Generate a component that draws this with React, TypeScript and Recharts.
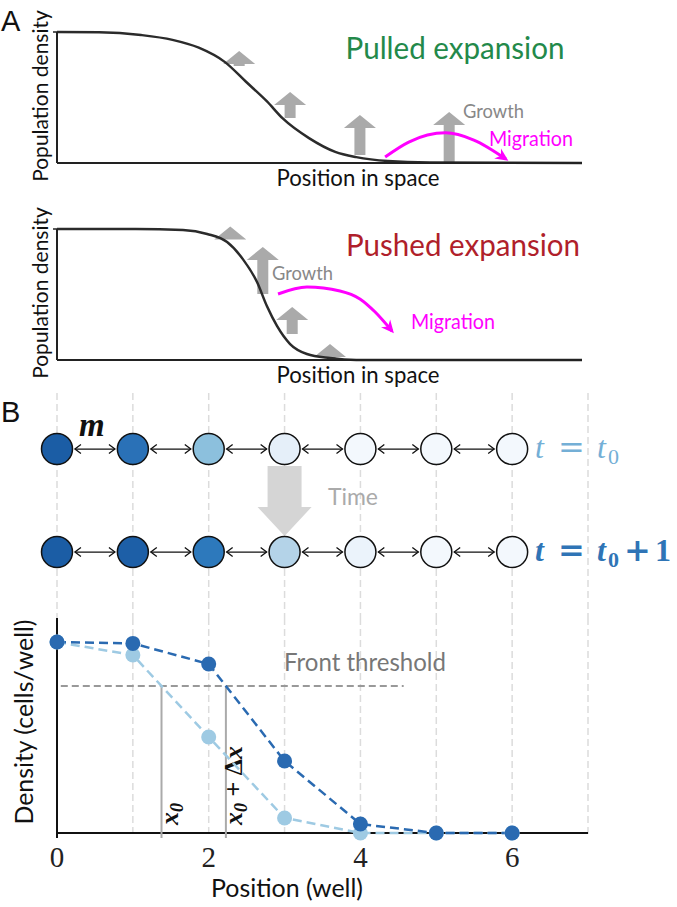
import React from "react";
import {
  ComposedChart,
  Line,
  Scatter,
  XAxis,
  YAxis,
  ReferenceLine,
  ReferenceArea,
  CartesianGrid,
} from "recharts";

const SANS = "Lato, 'Open Sans', sans-serif";
const SERIF = "'Liberation Serif', 'DejaVu Serif', serif";
const MATH_OP = "'DejaVu Serif', serif";
const MAGENTA = "#ff00ff";
const LIGHT = "#9ecae3";
const DARK = "#2a6ab1";

// panel A: sketched front profiles (position in arbitrary units, density / carrying capacity)
const pulledX = [0, 0.8, 1.6, 2.2, 2.7, 3.2, 3.6, 4.0, 4.3, 4.8, 5.3, 5.7, 6.3, 7.1, 10];
const pulledDensity = [1.0, 0.998, 0.977, 0.94, 0.88, 0.77, 0.62, 0.47, 0.34, 0.19, 0.085, 0.045, 0.015, 0.004, 0];
const pushedX = [0, 1.5, 2.4, 2.86, 3.24, 3.54, 3.81, 4.0, 4.19, 4.44, 4.76, 5.2, 5.7, 10];
const pushedDensity = [1.0, 1.0, 0.992, 0.962, 0.9, 0.77, 0.595, 0.41, 0.26, 0.122, 0.046, 0.015, 0, 0];

// growth arrows: position, foot and tip
const pulledGrowthX = [3.47, 4.44, 5.77, 7.47];
const pulledGrowthFoot = [0.74, 0.344, 0.061, 0];
const pulledGrowthTip = [0.855, 0.542, 0.366, 0.389];
const pushedGrowthX = [3.3, 3.92, 4.48, 5.2];
const pushedGrowthFoot = [0.92, 0.504, 0.198, 0.015];
const pushedGrowthTip = [1.02, 0.863, 0.405, 0.122];

// migration arcs
const pulledMigrationX = [6.25, 6.7, 7.4, 7.94, 8.55];
const pulledMigrationY = [0.046, 0.16, 0.23, 0.175, 0.03];
const pushedMigrationX = [4.21, 4.76, 5.39, 5.77, 6.06, 6.38];
const pushedMigrationY = [0.504, 0.557, 0.527, 0.466, 0.366, 0.221];

// panel B: density per well at t0 and t0 + 1
const wells = [0, 1, 2, 3, 4, 5, 6];
const densityT0 = [1.0, 0.932, 0.503, 0.079, 0, 0, 0];
const densityT1 = [1.0, 0.993, 0.885, 0.377, 0.047, 0, 0];
const FRONT_THRESHOLD = 0.77;
const xTicks = [0, 2, 4, 6];

const zip = (xs: number[], ys: number[]) => xs.map((x, i) => ({ x, y: ys[i] }));

// where the piecewise linear profile crosses the threshold
function frontPosition(density: number[]) {
  for (let i = 1; i < density.length; i++) {
    if (density[i] < FRONT_THRESHOLD) {
      const a = density[i - 1];
      const b = density[i];
      return wells[i - 1] + (a - FRONT_THRESHOLD) / (a - b);
    }
  }
  return wells[wells.length - 1];
}

const BLUE_STOPS: [number, string][] = [
  [0, "#f3f8fd"],
  [0.05, "#ebf3fb"],
  [0.08, "#e5eff9"],
  [0.38, "#b3d3e8"],
  [0.5, "#8dc1dd"],
  [0.89, "#2c78bc"],
  [0.93, "#2a72b8"],
  [1, "#1b5da5"],
];

function blues(v: number) {
  for (let i = 1; i < BLUE_STOPS.length; i++) {
    const [v1, c1] = BLUE_STOPS[i];
    if (v <= v1) {
      const [v0, c0] = BLUE_STOPS[i - 1];
      const t = (v - v0) / (v1 - v0 || 1);
      const p = (c: string, k: number) => parseInt(c.slice(1 + 2 * k, 3 + 2 * k), 16);
      const ch = [0, 1, 2].map((k) => Math.round(p(c0, k) + (p(c1, k) - p(c0, k)) * t));
      return `rgb(${ch.join(",")})`;
    }
  }
  return BLUE_STOPS[BLUE_STOPS.length - 1][1];
}

const growthArrow = (p: any) => {
  const cx = p.x + p.width / 2;
  const top = p.y;
  const bottom = p.y + p.height;
  const neck = Math.min(top + 13, bottom);
  return (
    <path
      d={`M${cx},${top} L${cx + 16},${neck} L${cx + 5.5},${neck} L${cx + 5.5},${bottom} L${cx - 5.5},${bottom} L${cx - 5.5},${neck} L${cx - 16},${neck} Z`}
      fill="#aaaaaa"
    />
  );
};

const timeArrow = (p: any) => {
  const cx = p.x + p.width / 2;
  const top = p.y;
  const bottom = p.y + p.height;
  const neck = bottom - 29;
  return (
    <path
      d={`M${cx - 17},${top} L${cx + 17},${top} L${cx + 17},${neck} L${cx + 27},${neck} L${cx},${bottom} L${cx - 27},${neck} L${cx - 17},${neck} Z`}
      fill="#d5d5d5"
    />
  );
};

const cellShape = (p: any) => (
  <circle cx={p.cx} cy={p.cy} r={15.5} fill={blues(p.payload.density)} stroke="#111" strokeWidth={1.5} />
);

const linkShape = (p: any) => {
  const a = p.cx - 20;
  const b = p.cx + 20;
  const y = p.cy;
  return (
    <g fill="none" stroke="#111" strokeWidth={1.3}>
      <line x1={a} y1={y} x2={b} y2={y} />
      <path d={`M${a + 6},${y - 4.5} L${a},${y} L${a + 6},${y + 4.5}`} />
      <path d={`M${b - 6},${y - 4.5} L${b},${y} L${b - 6},${y + 4.5}`} />
    </g>
  );
};

interface PanelProps {
  top: number;
  profile: { x: number; y: number }[];
  migration: { x: number; y: number }[];
  growthX: number[];
  growthFoot: number[];
  growthTip: number[];
  title: string;
  titleColor: string;
  titleX: number;
  titleLen: number;
  growthAt: [number, number];
  migrationAt: [number, number];
  letter?: string;
}

function ExpansionPanel(props: PanelProps) {
  const { top, profile, migration, growthX, growthFoot, growthTip } = props;
  return (
    <div style={{ position: "absolute", left: 0, top }}>
      <ComposedChart width={677} height={200} margin={{ top: 32, right: 95, bottom: 0, left: 0 }}>
        <XAxis
          dataKey="x"
          type="number"
          domain={[0, 10]}
          height={37}
          tick={false}
          tickLine={false}
          axisLine={{ stroke: "#222", strokeWidth: 2 }}
        />
        <YAxis
          type="number"
          domain={[0, 1]}
          width={57}
          ticks={[1]}
          tick={() => <g />}
          tickSize={4}
          tickLine={{ stroke: "#222", strokeWidth: 1.5 }}
          axisLine={{ stroke: "#222", strokeWidth: 2 }}
        />
        {growthX.map((x, i) => (
          <ReferenceArea
            key={i}
            x1={x - 0.05}
            x2={x + 0.05}
            y1={growthFoot[i]}
            y2={growthTip[i]}
            ifOverflow="visible"
            shape={growthArrow}
          />
        ))}
        <Line
          data={profile}
          dataKey="y"
          type="monotone"
          stroke="#2b2b2b"
          strokeWidth={2.5}
          dot={false}
          activeDot={false}
          isAnimationActive={false}
        />
        <Line
          data={migration}
          dataKey="y"
          type="monotone"
          stroke={MAGENTA}
          strokeWidth={3}
          dot={false}
          activeDot={false}
          markerEnd="url(#migration-head)"
          isAnimationActive={false}
        />
        {props.letter && (
          <text x={1} y={31} fontFamily="'Liberation Sans', sans-serif" fontSize={29} fill="#111">
            {props.letter}
          </text>
        )}
        <text
          x={props.titleX}
          y={59}
          textAnchor="middle"
          fontFamily={SANS}
          fontSize={30}
          fill={props.titleColor}
          textLength={props.titleLen}
          lengthAdjust="spacingAndGlyphs"
        >
          {props.title}
        </text>
        <text x={props.growthAt[0]} y={props.growthAt[1]} fontFamily={SANS} fontSize={20} fill="#888" textLength={61} lengthAdjust="spacingAndGlyphs">
          Growth
        </text>
        <text x={props.migrationAt[0]} y={props.migrationAt[1]} fontFamily={SANS} fontSize={21} fill={MAGENTA} textLength={84} lengthAdjust="spacingAndGlyphs">
          Migration
        </text>
        <text
          x={48}
          y={96}
          transform="rotate(-90 48 96)"
          textAnchor="middle"
          fontFamily={SANS}
          fontSize={21}
          fill="#111"
        >
          Population density
        </text>
        <text x={358} y={186} textAnchor="middle" fontFamily={SANS} fontSize={23} fill="#111" textLength={163} lengthAdjust="spacingAndGlyphs">
          Position in space
        </text>
      </ComposedChart>
    </div>
  );
}

export default function App() {
  const cells = [
    ...wells.map((w, i) => ({ well: w, step: 0, density: densityT0[i] })),
    ...wells.map((w, i) => ({ well: w, step: 1, density: densityT1[i] })),
  ];
  const links = [0, 1].flatMap((step) => wells.slice(0, -1).map((w) => ({ well: w + 0.5, step })));
  const profileRows = wells.map((w, i) => ({ well: w, t0: densityT0[i], t1: densityT1[i] }));
  const front0 = frontPosition(densityT0);
  const front1 = frontPosition(densityT1);

  const frontLabel = (text: React.ReactNode) => (p: any) => {
    const vb = p.viewBox || {};
    const x = vb.x + 16.5;
    const y = vb.y + vb.height - 13;
    return (
      <text
        x={x}
        y={y}
        transform={`rotate(-90 ${x} ${y})`}
        fontFamily={SERIF}
        fontStyle="italic"
        fontWeight="bold"
        fontSize={26}
        fill="#111"
      >
        {text}
      </text>
    );
  };

  return (
    <div style={{ position: "absolute", left: 0, top: 0, width: 677, height: 907, background: "#fff" }}>
      <svg width={0} height={0} style={{ position: "absolute" }}>
        <defs>
          <marker
            id="migration-head"
            viewBox="0 0 14 14"
            refX={10}
            refY={7}
            markerWidth={14}
            markerHeight={14}
            markerUnits="userSpaceOnUse"
            orient="auto"
          >
            <path d="M0,1 L13,7 L0,13 L4,7 Z" fill={MAGENTA} />
          </marker>
        </defs>
      </svg>

      <ExpansionPanel
        top={0}
        profile={zip(pulledX, pulledDensity)}
        migration={zip(pulledMigrationX, pulledMigrationY)}
        growthX={pulledGrowthX}
        growthFoot={pulledGrowthFoot}
        growthTip={pulledGrowthTip}
        title="Pulled expansion"
        titleColor="#23894a"
        titleX={455}
        titleLen={219}
        growthAt={[463, 118]}
        migrationAt={[489, 146]}
        letter="A"
      />
      <ExpansionPanel
        top={197}
        profile={zip(pushedX, pushedDensity)}
        migration={zip(pushedMigrationX, pushedMigrationY)}
        growthX={pushedGrowthX}
        growthFoot={pushedGrowthFoot}
        growthTip={pushedGrowthTip}
        title="Pushed expansion"
        titleColor="#b01f2b"
        titleX={463}
        titleLen={234}
        growthAt={[272, 83]}
        migrationAt={[411, 132]}
      />

      {/* B: wells at two time points */}
      <div style={{ position: "absolute", left: 0, top: 380 }}>
        <ComposedChart width={677} height={238} margin={{ top: 13, right: 89, bottom: 0, left: 57 }}>
          <CartesianGrid horizontal={false} stroke="#dcdcdc" strokeWidth={1.5} strokeDasharray="7 4" />
          <XAxis dataKey="well" type="number" domain={[0, 7]} ticks={wells} hide />
          <YAxis dataKey="step" type="number" domain={[-0.544, 1.64]} reversed hide />
          <ReferenceArea x1={2.9} x2={3.1} y1={0.165} y2={0.844} shape={timeArrow} />
          <Scatter data={links} shape={linkShape} isAnimationActive={false} />
          <Scatter data={cells} shape={cellShape} isAnimationActive={false} />
          <text x={1} y={42} fontFamily="'Liberation Sans', sans-serif" fontSize={29} fill="#111">
            B
          </text>
          <text x={79} y={56} fontFamily={SERIF} fontStyle="italic" fontWeight="bold" fontSize={33} fill="#111">
            m
          </text>
          <text x={328} y={125} fontFamily={SANS} fontSize={24} fill="#aaa" textLength={50} lengthAdjust="spacingAndGlyphs">
            Time
          </text>
          <g fill="#74afd6" fontSize={32}>
            <text x={535} y={78} fontFamily={SERIF} fontStyle="italic">t</text>
            <text x={558} y={78} fontFamily={MATH_OP}>=</text>
            <text x={597} y={78} fontFamily={SERIF} fontStyle="italic">t</text>
            <text x={608} y={84} fontFamily={SERIF} fontSize={22}>0</text>
          </g>
          <g fill="#2f74b6" fontSize={32} fontWeight="bold">
            <text x={535} y={181} fontFamily={SERIF} fontStyle="italic">t</text>
            <text x={558} y={181} fontFamily={MATH_OP}>=</text>
            <text x={597} y={181} fontFamily={SERIF} fontStyle="italic">t</text>
            <text x={608} y={187} fontFamily={SERIF} fontSize={22}>0</text>
            <text x={624} y={181} fontFamily={MATH_OP}>+</text>
            <text x={655} y={181} fontFamily={SERIF}>1</text>
          </g>
        </ComposedChart>
      </div>

      {/* B: density profiles */}
      <div style={{ position: "absolute", left: 0, top: 610 }}>
        <ComposedChart width={677} height={297} data={profileRows} margin={{ top: 8, right: 89, bottom: 0, left: 0 }}>
          <CartesianGrid xAxisId="grid" horizontal={false} stroke="#dcdcdc" strokeWidth={1.5} strokeDasharray="7 4" />
          <XAxis xAxisId="grid" dataKey="well" type="number" domain={[0, 7]} ticks={wells} hide />
          <XAxis
            dataKey="well"
            type="number"
            domain={[0, 7]}
            ticks={xTicks}
            height={69}
            axisLine={false}
            tickLine={false}
            tick={{ fontFamily: SERIF, fontSize: 29, fill: "#222" }}
          />
          <YAxis
            type="number"
            domain={[-0.026, 1.126]}
            width={57}
            tick={false}
            tickLine={false}
            axisLine={{ stroke: "#111", strokeWidth: 2 }}
          />
          <ReferenceLine y={0} stroke="#111" strokeWidth={2} />
          <ReferenceLine
            segment={[
              { x: 0.05, y: FRONT_THRESHOLD },
              { x: 4.57, y: FRONT_THRESHOLD },
            ]}
            stroke="#999"
            strokeWidth={2}
            strokeDasharray="7 4"
          />
          <ReferenceLine
            segment={[
              { x: front0, y: FRONT_THRESHOLD },
              { x: front0, y: -0.026 },
            ]}
            stroke="#aaa"
            strokeWidth={2}
            label={frontLabel(
              <>
                x<tspan fontSize={18} dy={5}>0</tspan>
              </>
            )}
          />
          <ReferenceLine
            segment={[
              { x: front1, y: FRONT_THRESHOLD },
              { x: front1, y: -0.026 },
            ]}
            stroke="#aaa"
            strokeWidth={2}
            label={frontLabel(
              <>
                x<tspan fontSize={18} dy={5}>0</tspan>
                <tspan dy={-5} fontStyle="normal"> + Δ</tspan>x
              </>
            )}
          />
          <Line
            dataKey="t0"
            stroke={LIGHT}
            strokeWidth={2.5}
            strokeDasharray="9 5"
            dot={{ r: 7.5, fill: LIGHT, stroke: "none" }}
            activeDot={false}
            isAnimationActive={false}
          />
          <Line
            dataKey="t1"
            stroke={DARK}
            strokeWidth={2.5}
            strokeDasharray="9 5"
            dot={{ r: 7.5, fill: DARK, stroke: "none" }}
            activeDot={false}
            isAnimationActive={false}
          />
          <text x={284} y={61} fontFamily={SANS} fontSize={25} fill="#777" textLength={162} lengthAdjust="spacingAndGlyphs">
            Front threshold
          </text>
          <text
            x={33}
            y={112}
            transform="rotate(-90 33 112)"
            textAnchor="middle"
            fontFamily={SANS}
            fontSize={25}
            fill="#111"
            textLength={205}
            lengthAdjust="spacingAndGlyphs"
          >
            Density (cells/well)
          </text>
          <text x={287} y={287} textAnchor="middle" fontFamily={SANS} fontSize={25} fill="#111" textLength={152} lengthAdjust="spacingAndGlyphs">
            Position (well)
          </text>
        </ComposedChart>
      </div>
    </div>
  );
}
